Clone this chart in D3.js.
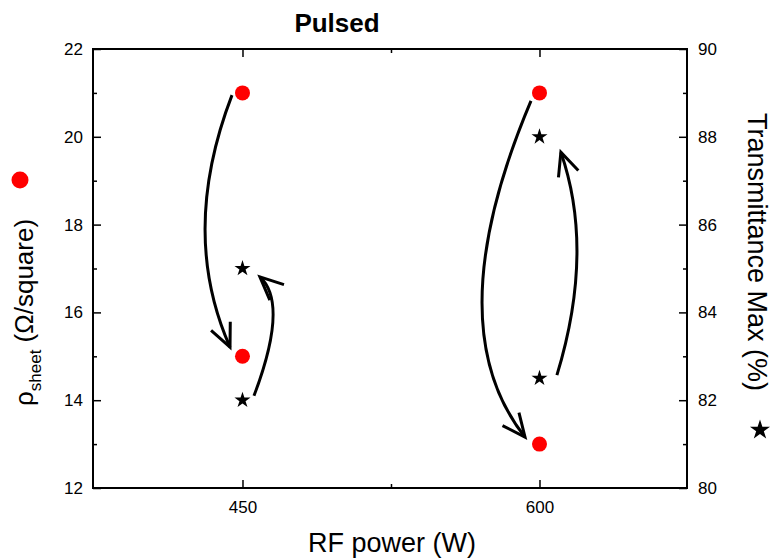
<!DOCTYPE html>
<html>
<head>
<meta charset="utf-8">
<script src="https://cdn.jsdelivr.net/npm/d3@7"></script>
<style>
  body { margin: 0; background: #fff; }
  svg { font-family: 'Liberation Sans', Arial, sans-serif; }
</style>
</head>
<body>
<div id="chart"></div>
<script>
// data
const powers = [450, 450, 600, 600];
const sheetRes = [21, 15, 21, 13];
const transPowers = [450, 450, 600, 600];
const transmittance = [85, 82, 88, 82.5];

const xMajor = [450, 600];
const xMinor = [525];
const leftMajor = [12, 14, 16, 18, 20, 22];
const leftMinor = [13, 15, 17, 19, 21];
const rightMajor = [80, 82, 84, 86, 88, 90];
const rightMinor = [81, 83, 85, 87, 89];

// arrows in data units: [start, turning point, end], scale = which y axis
const arrows = [
  { scale: 'left',  pts: [[444.7, 20.95], [431.1, 17.95], [443.7, 15.21]] },
  { scale: 'right', pts: [[455.8, 82.1], [465.4, 83.83], [458.8, 84.81]] },
  { scale: 'left',  pts: [[595.7, 20.82], [571.0, 16.35], [592.7, 13.16]] },
  { scale: 'right', pts: [[608.8, 82.57], [618.9, 85.26], [610.8, 87.65]] }
];

const W = 771, H = 558;
const margin = { top: 49, right: 84, bottom: 70, left: 93 };
const width = W - margin.left - margin.right;
const height = H - margin.top - margin.bottom;

const svg = d3.select('#chart').append('svg')
  .attr('width', W)
  .attr('height', H);

const defs = svg.append('defs');
defs.append('marker')
  .attr('id', 'arrowhead')
  .attr('markerUnits', 'userSpaceOnUse')
  .attr('viewBox', '-26 -14 30 28')
  .attr('markerWidth', 30)
  .attr('markerHeight', 28)
  .attr('refX', 0)
  .attr('refY', 0)
  .attr('orient', 'auto')
  .append('path')
  .attr('d', 'M-23,-10.5L0,0L-23,10.5')
  .attr('fill', 'none')
  .attr('stroke', '#000')
  .attr('stroke-width', 3);

const g = svg.append('g').attr('transform', `translate(${margin.left},${margin.top})`);

const x = d3.scaleLinear().domain([374.5, 674.5]).range([0, width]);
const yL = d3.scaleLinear().domain([12, 22]).range([height, 0]);
const yR = d3.scaleLinear().domain([80, 90]).range([height, 0]);

function styleAxis(sel) {
  sel.select('.domain').remove();
  sel.selectAll('.tick line').attr('stroke', '#000').attr('stroke-width', 1.5);
  sel.selectAll('.tick text').attr('fill', '#000').style('font-size', '17px');
}

// bottom / top
g.append('g').attr('transform', `translate(0,${height})`)
  .call(d3.axisBottom(x).tickValues(xMajor).tickSize(-8).tickPadding(13).tickFormat(d3.format('d')))
  .call(styleAxis);
g.append('g').attr('transform', `translate(0,${height})`)
  .call(d3.axisBottom(x).tickValues(xMinor).tickSize(-4).tickFormat(''))
  .call(styleAxis);
g.append('g')
  .call(d3.axisTop(x).tickValues(xMajor).tickSize(-8).tickFormat(''))
  .call(styleAxis);
g.append('g')
  .call(d3.axisTop(x).tickValues(xMinor).tickSize(-4).tickFormat(''))
  .call(styleAxis);

// left / right
g.append('g')
  .call(d3.axisLeft(yL).tickValues(leftMajor).tickSize(-8).tickPadding(10).tickFormat(d3.format('d')))
  .call(styleAxis);
g.append('g')
  .call(d3.axisLeft(yL).tickValues(leftMinor).tickSize(-4).tickFormat(''))
  .call(styleAxis);
g.append('g').attr('transform', `translate(${width},0)`)
  .call(d3.axisRight(yR).tickValues(rightMajor).tickSize(-8).tickPadding(11).tickFormat(d3.format('d')))
  .call(styleAxis);
g.append('g').attr('transform', `translate(${width},0)`)
  .call(d3.axisRight(yR).tickValues(rightMinor).tickSize(-4).tickFormat(''))
  .call(styleAxis);

g.append('rect')
  .attr('width', width)
  .attr('height', height)
  .attr('fill', 'none')
  .attr('stroke', '#000')
  .attr('stroke-width', 2);

// arrows: quadratic curve passing through the turning point
g.selectAll('.arrow')
  .data(arrows)
  .join('path')
  .attr('class', 'arrow')
  .attr('fill', 'none')
  .attr('stroke', '#000')
  .attr('stroke-width', 3)
  .attr('marker-end', 'url(#arrowhead)')
  .attr('d', a => {
    const ys = a.scale === 'left' ? yL : yR;
    const [s, m, e] = a.pts.map(p => [x(p[0]), ys(p[1])]);
    const c = [2 * m[0] - (s[0] + e[0]) / 2, 2 * m[1] - (s[1] + e[1]) / 2];
    const p = d3.path();
    p.moveTo(s[0], s[1]);
    p.quadraticCurveTo(c[0], c[1], e[0], e[1]);
    return p.toString();
  });

g.selectAll('.dot')
  .data(powers.map((p, i) => [p, sheetRes[i]]))
  .join('circle')
  .attr('class', 'dot')
  .attr('cx', d => x(d[0]))
  .attr('cy', d => yL(d[1]))
  .attr('r', 7.5)
  .attr('fill', '#ff0000');

const star = d3.symbol(d3.symbolStar).size(80);
g.selectAll('.star')
  .data(transPowers.map((p, i) => [p, transmittance[i]]))
  .join('path')
  .attr('class', 'star')
  .attr('transform', d => `translate(${x(d[0])},${yR(d[1])})`)
  .attr('d', star)
  .attr('fill', '#000');

// titles
svg.append('text')
  .attr('x', 337)
  .attr('y', 32)
  .attr('text-anchor', 'middle')
  .style('font-size', '26px')
  .style('font-weight', 'bold')
  .text('Pulsed');

svg.append('text')
  .attr('x', 392)
  .attr('y', 552)
  .attr('text-anchor', 'middle')
  .style('font-size', '27px')
  .text('RF power (W)');

const leftLab = svg.append('text')
  .attr('transform', 'translate(33,406) rotate(-90)')
  .attr('text-anchor', 'start')
  .style('font-size', '26px');
leftLab.append('tspan').text('ρ');
leftLab.append('tspan').attr('dy', 8).style('font-size', '17px').text('sheet');
leftLab.append('tspan').attr('dy', -8).text(' (Ω/square)');

svg.append('circle')
  .attr('cx', 20)
  .attr('cy', 180)
  .attr('r', 8.5)
  .attr('fill', '#ff0000');

svg.append('text')
  .attr('transform', 'translate(748,252) rotate(90)')
  .attr('text-anchor', 'middle')
  .style('font-size', '27px')
  .text('Transmittance Max (%)');

svg.append('path')
  .attr('transform', 'translate(760,430)')
  .attr('d', d3.symbol(d3.symbolStar).size(125)())
  .attr('fill', '#000');
</script>
</body>
</html>
